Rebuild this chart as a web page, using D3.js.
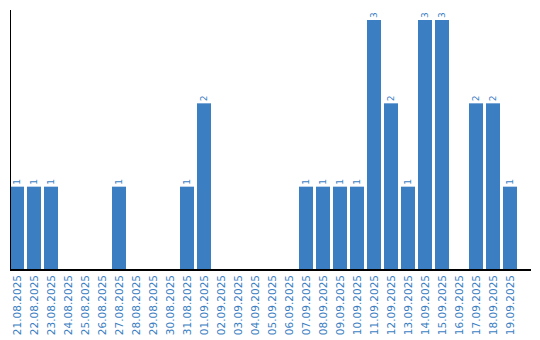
<!DOCTYPE html>
<html>
<head>
<meta charset="utf-8">
<script src="https://cdn.jsdelivr.net/npm/d3@7"></script>
<style>
  body { margin: 0; background: #fff; }
  text { font-family: "DejaVu Sans", Verdana, sans-serif; }
</style>
</head>
<body>
<svg id="chart"></svg>
<script>
// Dates and counts per day
var dates = ["21.08.2025","22.08.2025","23.08.2025","24.08.2025","25.08.2025","26.08.2025",
  "27.08.2025","28.08.2025","29.08.2025","30.08.2025","31.08.2025","01.09.2025",
  "02.09.2025","03.09.2025","04.09.2025","05.09.2025","06.09.2025","07.09.2025",
  "08.09.2025","09.09.2025","10.09.2025","11.09.2025","12.09.2025","13.09.2025",
  "14.09.2025","15.09.2025","16.09.2025","17.09.2025","18.09.2025","19.09.2025"];
var counts = [1,1,1,0,0,0,1,0,0,0,1,2,0,0,0,0,0,1,1,1,1,3,2,1,3,3,0,2,2,1];

var width = 540, height = 340;
var blue = "#3b7ec2";

var svg = d3.select("#chart")
    .attr("width", width)
    .attr("height", height);

var data = dates.map(function(d, i) { return {date: d, count: counts[i]}; });

// Scales
var x = d3.scaleBand()
    .domain(dates)
    .range([10, 517])
    .paddingInner(3/17)
    .paddingOuter(0);
var y = d3.scaleLinear()
    .domain([0, 3])
    .range([270, 20]);

// Bars
svg.selectAll(".bar")
    .data(data.filter(function(d) { return d.count > 0; }))
  .enter().append("rect")
    .attr("class", "bar")
    .attr("x", function(d) { return x(d.date); })
    .attr("y", function(d) { return y(d.count); })
    .attr("width", x.bandwidth())
    .attr("height", function(d) { return y(0) - y(d.count); })
    .attr("fill", blue);

// Value labels above bars (rotated)
svg.selectAll(".val")
    .data(data.filter(function(d) { return d.count > 0; }))
  .enter().append("text")
    .attr("class", "val")
    .attr("transform", function(d) {
      return "translate(" + (x(d.date) + x.bandwidth() / 2 + 3) + "," + (y(d.count) - 2) + ") rotate(-90)";
    })
    .attr("text-anchor", "start")
    .attr("fill", blue)
    .style("font-size", "9px")
    .text(function(d) { return d.count; });

// X axis labels
var xAxis = d3.axisBottom(x).tickSize(0).tickPadding(0);
var gx = svg.append("g")
    .attr("transform", "translate(0,270)")
    .call(xAxis);
gx.select(".domain").remove();
gx.selectAll("text")
    .attr("transform", "translate(0,5) rotate(-90)")
    .attr("x", 0)
    .attr("y", 0)
    .attr("dy", "0.35em")
    .attr("text-anchor", "end")
    .attr("fill", blue)
    .style("font-size", "10.5px")
    .style("font-family", "'DejaVu Sans', Verdana, sans-serif");

// Axis lines
svg.append("line")
    .attr("x1", 10.5).attr("x2", 10.5)
    .attr("y1", 10).attr("y2", 270)
    .attr("stroke", "#000").attr("stroke-width", 1);
svg.append("line")
    .attr("x1", 10).attr("x2", 531)
    .attr("y1", 270).attr("y2", 270)
    .attr("stroke", "#000").attr("stroke-width", 2);
</script>
</body>
</html>
